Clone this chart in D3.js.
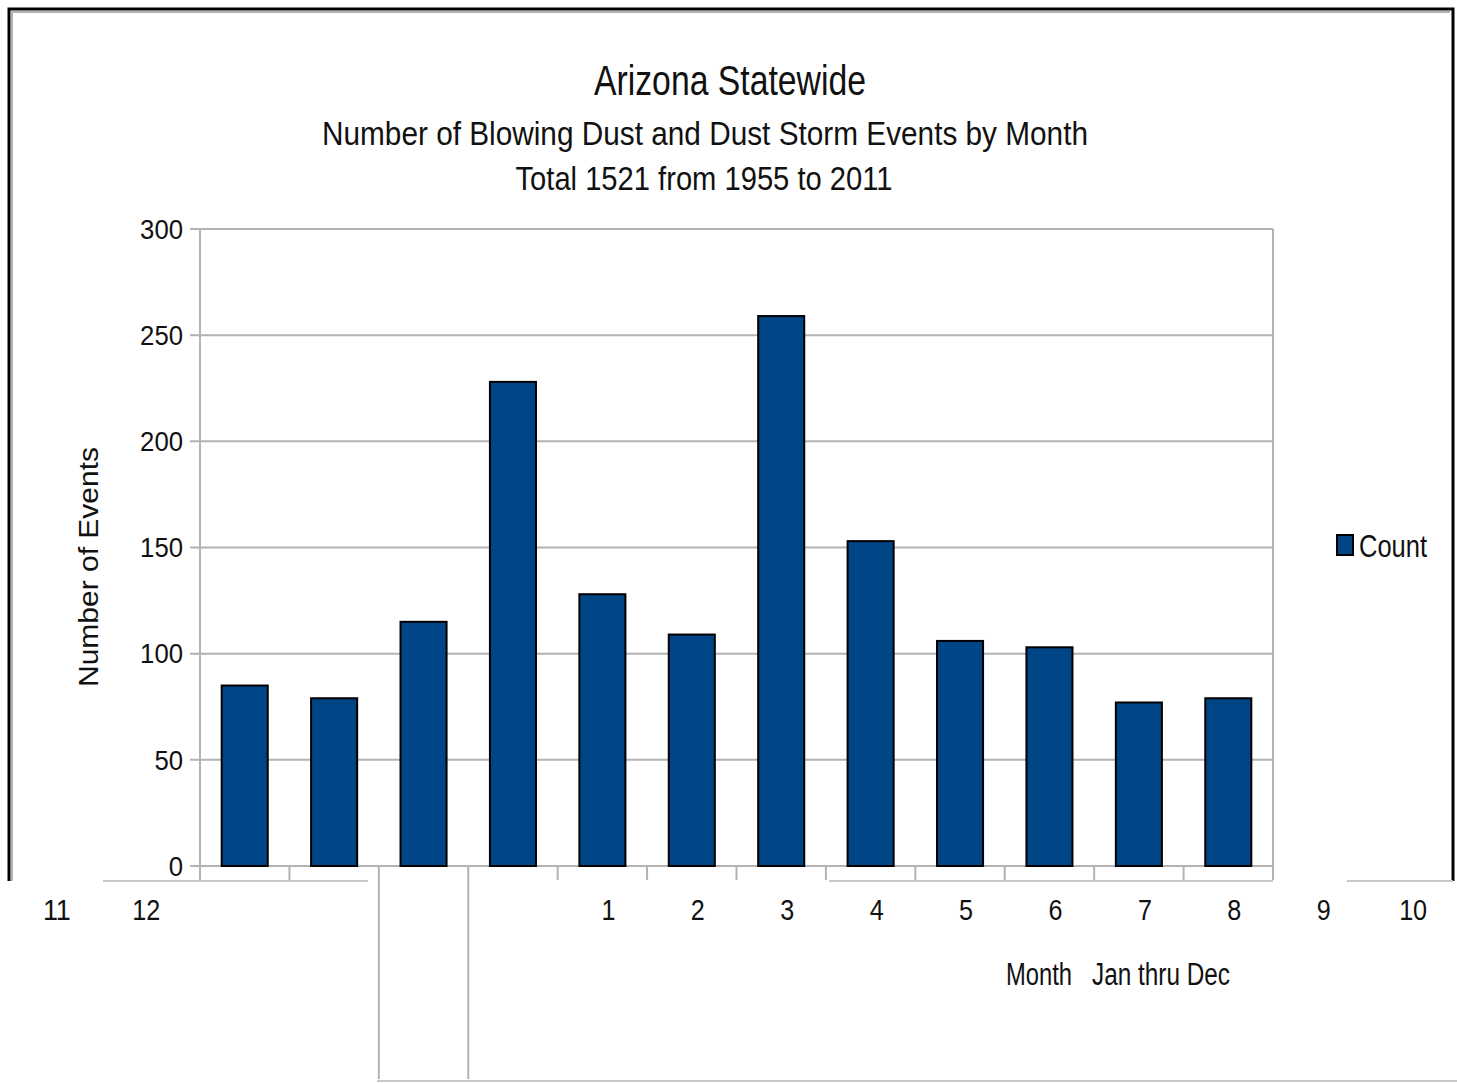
<!DOCTYPE html>
<html>
<head>
<meta charset="utf-8">
<script src="https://cdn.jsdelivr.net/npm/d3@7"></script>
<style>
  body { margin: 0; background: #fff; }
  text { font-family: "Liberation Sans Narrow", "Liberation Sans", sans-serif; fill: #111; }
</style>
</head>
<body>
<svg id="canvas" width="1457" height="1083"></svg>
<script>
// data
const months = [1, 2, 3, 4, 5, 6, 7, 8, 9, 10, 11, 12]
const counts = [85, 79, 115, 228, 128, 109, 259, 153, 106, 103, 77, 79]
const yTicks = [0, 50, 100, 150, 200, 250, 300]
const titleLines = ['Arizona Statewide', 'Number of Blowing Dust and Dust Storm Events by Month', 'Total 1521 from 1955 to 2011']

const canvas = d3.select('#canvas')
const plot = { left: 200, right: 1273, top: 229, bottom: 866 }
const barColor = '#004586'
const gridColor = '#b3b3b3'

let x = d3.scaleBand().domain(months).range([plot.left, plot.right]).paddingInner(0.485).paddingOuter(0.2425)
let y = d3.scaleLinear().domain([0, 300]).range([plot.bottom, plot.top])
const step = x.step()
// center of a band slot, slots may sit outside the plot (labels got shifted)
let slotX = (i) => plot.left + step * (i + 0.5)

// squeeze text to a width, the original uses a narrow face
let squeeze = (sel, w) => sel.attr('textLength', w).attr('lengthAdjust', 'spacingAndGlyphs')

// frame
canvas.append('path')
  .attr('d', 'M9,881 V9 H1453 V881')
  .attr('fill', 'none').attr('stroke', '#000').attr('stroke-width', 3)
canvas.append('path')
  .attr('d', 'M12,881 V12 H1450')
  .attr('fill', 'none').attr('stroke', '#999').attr('stroke-width', 1.5)

// grid lines
canvas.append('g').selectAll('line')
  .data(yTicks)
  .enter().append('line')
  .attr('x1', plot.left - 10).attr('x2', plot.right)
  .attr('y1', d => y(d)).attr('y2', d => y(d))
  .attr('stroke', gridColor).attr('stroke-width', 2)

// axis lines
canvas.append('line')
  .attr('x1', plot.left).attr('x2', plot.left).attr('y1', plot.top).attr('y2', plot.bottom + 14)
  .attr('stroke', gridColor).attr('stroke-width', 2)
canvas.append('line')
  .attr('x1', plot.right).attr('x2', plot.right).attr('y1', plot.top).attr('y2', plot.bottom + 14)
  .attr('stroke', gridColor).attr('stroke-width', 2)

// x ticks at band boundaries
const boundaries = d3.range(1, months.length).map(i => plot.left + step * i)
canvas.append('g').selectAll('line')
  .data(boundaries)
  .enter().append('line')
  .attr('x1', d => d).attr('x2', d => d)
  .attr('y1', plot.bottom)
  .attr('y2', (d, i) => (i === 1 || i === 2) ? 1079 : plot.bottom + 14)
  .attr('stroke', gridColor).attr('stroke-width', 2)

// broken strip lines under the axis
const stripLines = [[103, 368, 881], [829, 1273, 881], [1347, 1453, 881], [377, 1457, 1081]]
canvas.append('g').selectAll('line')
  .data(stripLines)
  .enter().append('line')
  .attr('x1', d => d[0]).attr('x2', d => d[1])
  .attr('y1', d => d[2]).attr('y2', d => d[2])
  .attr('stroke', '#c8c8c8').attr('stroke-width', 2)

// bars
canvas.append('g').selectAll('rect')
  .data(counts)
  .enter().append('rect')
  .attr('x', (d, i) => x(months[i]))
  .attr('width', x.bandwidth())
  .attr('y', d => y(d))
  .attr('height', d => plot.bottom - y(d))
  .attr('fill', barColor)
  .attr('stroke', '#000').attr('stroke-width', 2)

// y tick labels
canvas.append('g').selectAll('text')
  .data(yTicks)
  .enter().append('text')
  .attr('x', 183).attr('y', d => y(d))
  .attr('dy', '0.35em')
  .attr('text-anchor', 'end')
  .style('font-size', '28px')
  .attr('textLength', d => String(d).length * 14.3)
  .attr('lengthAdjust', 'spacingAndGlyphs')
  .text(d => d)

// x tick labels, shifted four slots to the right and wrapped
canvas.append('g').selectAll('text')
  .data(months)
  .enter().append('text')
  .attr('x', d => d <= 10 ? slotX(d + 3) + 6 : slotX(d - 13) - 9)
  .attr('y', 920)
  .attr('text-anchor', 'middle')
  .style('font-size', '29px')
  .attr('textLength', d => String(d).length * 14)
  .attr('lengthAdjust', 'spacingAndGlyphs')
  .text(d => d)

// titles
const titleSizes = [42, 34, 34]
const titleY = [95, 145, 190]
const titleX = [730, 705, 704]
const titleW = [272, 766, 377]
canvas.append('g').selectAll('text')
  .data(titleLines)
  .enter().append('text')
  .attr('x', (d, i) => titleX[i]).attr('y', (d, i) => titleY[i])
  .attr('text-anchor', 'middle')
  .style('font-size', (d, i) => titleSizes[i] + 'px')
  .attr('textLength', (d, i) => titleW[i])
  .attr('lengthAdjust', 'spacingAndGlyphs')
  .text(d => d)

// axis titles
canvas.append('text')
  .attr('transform', 'translate(98,567) rotate(-90)')
  .attr('text-anchor', 'middle')
  .style('font-family', '"Liberation Sans", sans-serif')
  .style('font-size', '27px')
  .call(squeeze, 240)
  .text('Number of Events')
canvas.append('text')
  .attr('x', 1006).attr('y', 985)
  .style('font-size', '31px')
  .call(squeeze, 66)
  .text('Month')
canvas.append('text')
  .attr('x', 1092).attr('y', 985)
  .style('font-size', '31px')
  .call(squeeze, 138)
  .text('Jan thru Dec')

// legend
canvas.append('rect')
  .attr('x', 1337).attr('y', 535).attr('width', 16).attr('height', 20)
  .attr('fill', barColor).attr('stroke', '#000').attr('stroke-width', 2)
canvas.append('text')
  .attr('x', 1359).attr('y', 546).attr('dy', '0.35em')
  .style('font-size', '31px')
  .call(squeeze, 68)
  .text('Count')
</script>
</body>
</html>
